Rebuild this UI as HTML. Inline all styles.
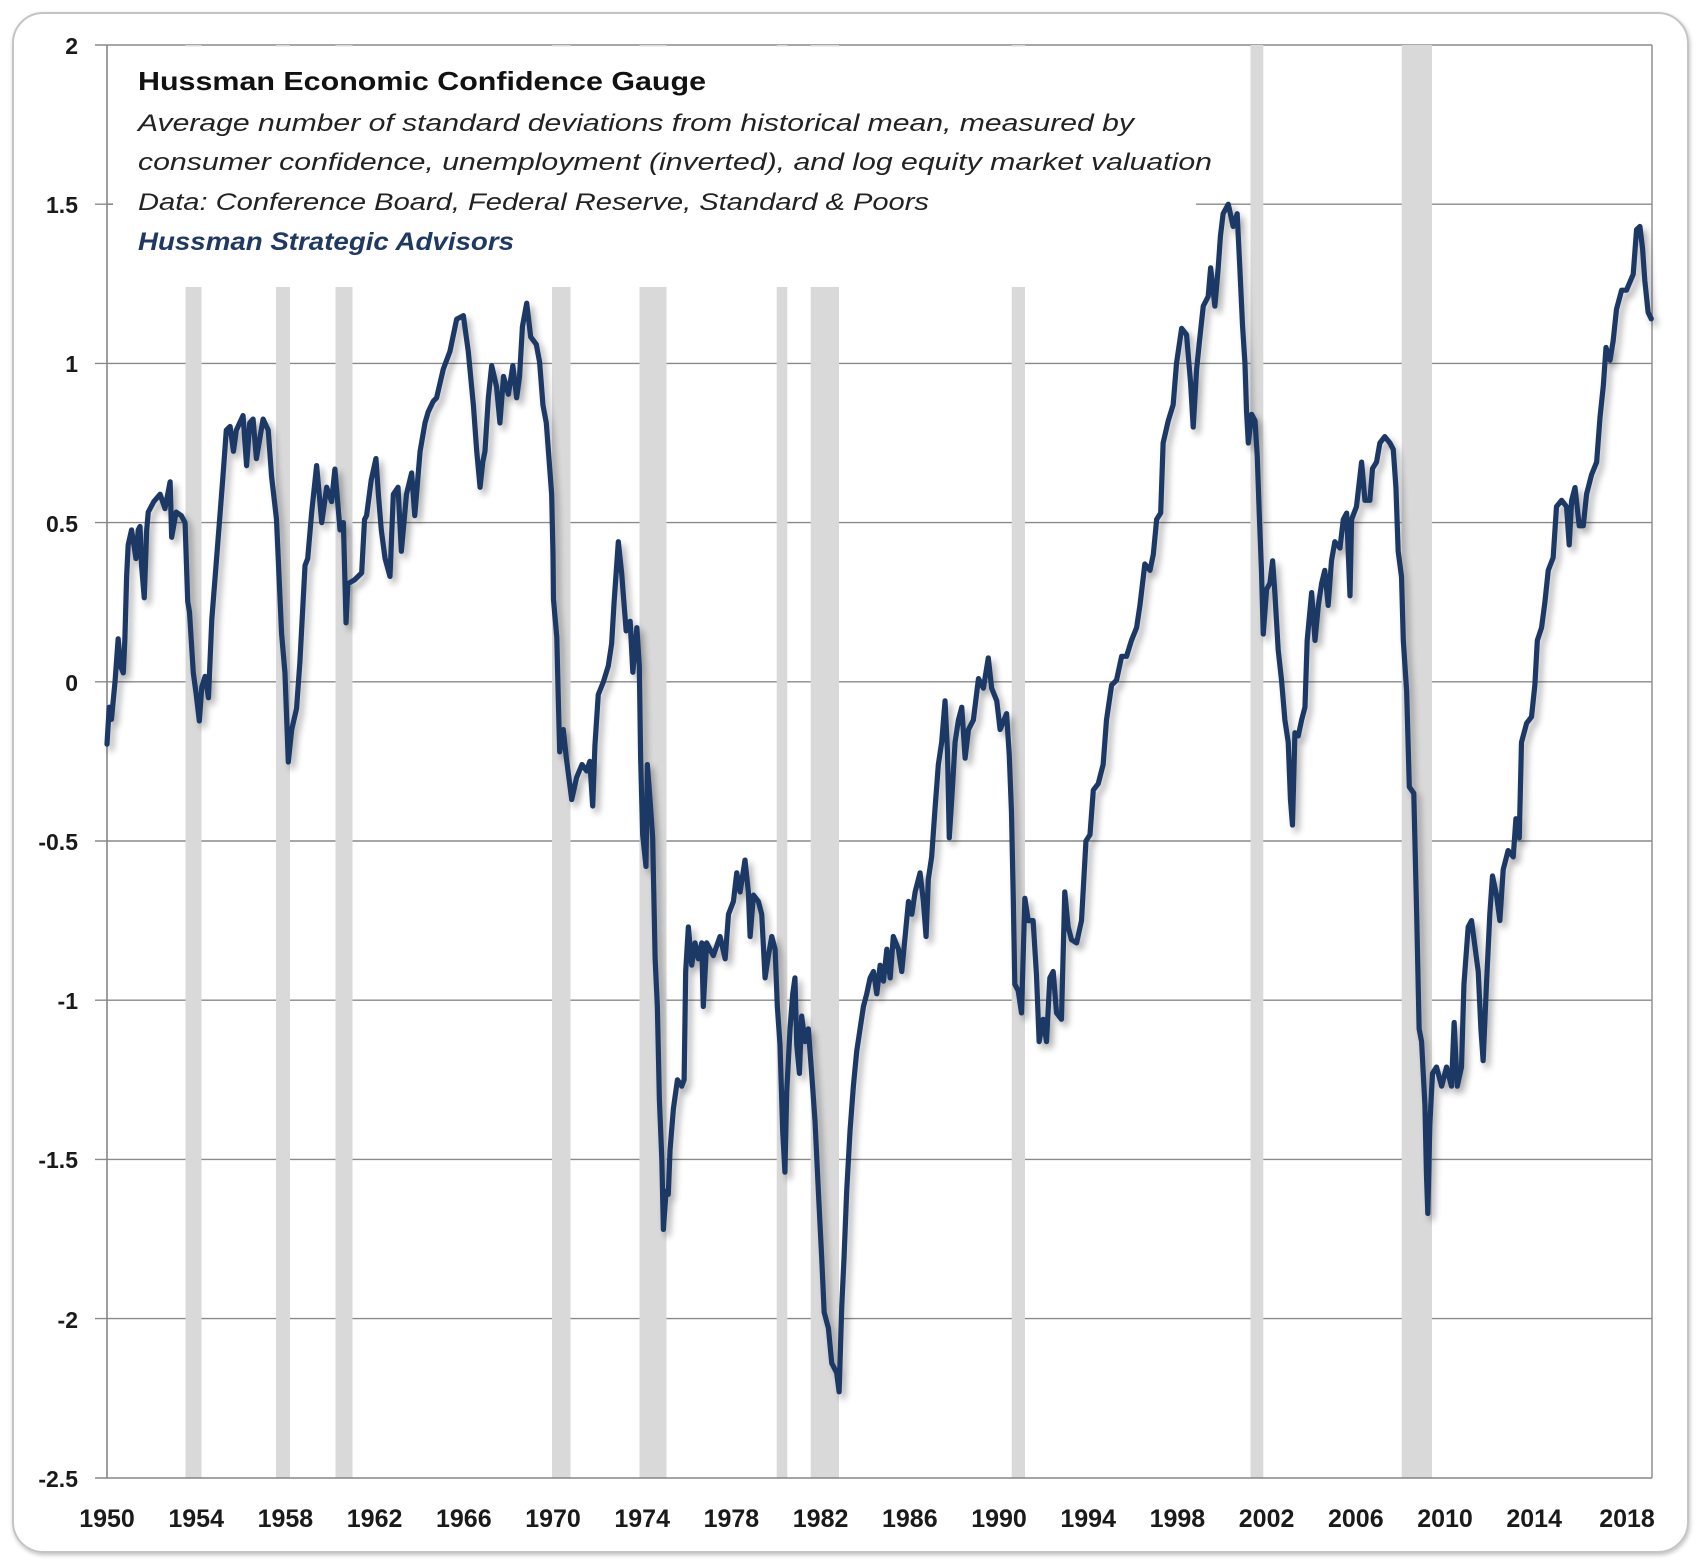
<!DOCTYPE html>
<html>
<head>
<meta charset="utf-8">
<style>
  html,body{margin:0;padding:0;background:#ffffff;}
  svg{display:block;}
  .yl{font-family:"Liberation Sans",Arial,sans-serif;font-weight:bold;font-size:23px;fill:#1a1a1a;}
  .xl{font-family:"Liberation Sans",Arial,sans-serif;font-weight:bold;font-size:25px;fill:#1a1a1a;}
  .t1{font-family:"Liberation Sans",Arial,sans-serif;font-weight:bold;font-size:26px;fill:#111111;}
  .ti{font-family:"Liberation Sans",Arial,sans-serif;font-style:italic;font-size:24px;fill:#222222;}
  .tn{font-family:"Liberation Sans",Arial,sans-serif;font-style:italic;font-weight:bold;font-size:25px;fill:#1f3864;}
</style>
</head>
<body>
<svg width="1698" height="1566" viewBox="0 0 1698 1566" xmlns="http://www.w3.org/2000/svg">
  <defs>
    <filter id="sh" filterUnits="userSpaceOnUse" x="0" y="0" width="1698" height="1566">
      <feGaussianBlur in="SourceAlpha" stdDeviation="3.5"/>
      <feOffset dx="4" dy="5" result="b"/>
      <feComponentTransfer><feFuncA type="linear" slope="0.32"/></feComponentTransfer>
      <feMerge><feMergeNode/><feMergeNode in="SourceGraphic"/></feMerge>
    </filter>
    <filter id="fs" filterUnits="userSpaceOnUse" x="0" y="0" width="1698" height="1566">
      <feGaussianBlur in="SourceAlpha" stdDeviation="2"/>
      <feOffset dx="1" dy="2"/>
      <feComponentTransfer><feFuncA type="linear" slope="0.25"/></feComponentTransfer>
      <feMerge><feMergeNode/><feMergeNode in="SourceGraphic"/></feMerge>
    </filter>
  </defs>

  <!-- outer frame -->
  <rect x="13" y="13" width="1675" height="1539" rx="30" ry="30" fill="#ffffff" stroke="#c4c4c4" stroke-width="2" filter="url(#fs)"/>

  <!-- gridlines -->
  <g stroke="#8a8a8a" stroke-width="1.4">
    <line x1="95" y1="45" x2="1652" y2="45"/>
    <line x1="95" y1="204.2" x2="1652" y2="204.2"/>
    <line x1="95" y1="363.4" x2="1652" y2="363.4"/>
    <line x1="95" y1="522.6" x2="1652" y2="522.6"/>
    <line x1="95" y1="681.8" x2="1652" y2="681.8"/>
    <line x1="95" y1="841" x2="1652" y2="841"/>
    <line x1="95" y1="1000.2" x2="1652" y2="1000.2"/>
    <line x1="95" y1="1159.4" x2="1652" y2="1159.4"/>
    <line x1="95" y1="1318.6" x2="1652" y2="1318.6"/>
    <line x1="1652" y1="45" x2="1652" y2="1478"/>
  </g>

  <!-- recession bars -->
  <g fill="#d9d9d9">
    <rect x="185.5" y="45" width="16" height="1433"/>
    <rect x="276" y="45" width="14" height="1433"/>
    <rect x="335.5" y="45" width="17" height="1433"/>
    <rect x="552" y="45" width="18.5" height="1433"/>
    <rect x="639.5" y="45" width="27" height="1433"/>
    <rect x="776.7" y="45" width="10.6" height="1433"/>
    <rect x="810.7" y="45" width="28.3" height="1433"/>
    <rect x="1011.7" y="45" width="13.3" height="1433"/>
    <rect x="1250.5" y="45" width="12.8" height="1433"/>
    <rect x="1401.7" y="45" width="30.3" height="1433"/>
  </g>

  <!-- title text box -->
  <rect x="108.5" y="46.5" width="1087.5" height="240.5" fill="#ffffff"/>
  <text class="t1" x="138" y="90" textLength="568" lengthAdjust="spacingAndGlyphs">Hussman Economic Confidence Gauge</text>
  <text class="ti" x="138" y="131" textLength="996" lengthAdjust="spacingAndGlyphs">Average number of standard deviations from historical mean, measured by</text>
  <text class="ti" x="138" y="170" textLength="1074" lengthAdjust="spacingAndGlyphs">consumer confidence, unemployment (inverted), and log equity market valuation</text>
  <text class="ti" x="138" y="210" textLength="791" lengthAdjust="spacingAndGlyphs">Data: Conference Board, Federal Reserve, Standard &amp; Poors</text>
  <text class="tn" x="138" y="250" textLength="376" lengthAdjust="spacingAndGlyphs">Hussman Strategic Advisors</text>

  <!-- axes -->
  <g stroke="#868686" stroke-width="1.6">
    <line x1="107" y1="45" x2="107" y2="1478"/>
    <line x1="95" y1="1478" x2="1652" y2="1478"/>
    <line x1="107" y1="204.2" x2="113" y2="204.2"/>
  </g>

  <!-- y labels -->
  <g class="yl" text-anchor="end">
    <text x="78" y="54">2</text>
    <text x="78" y="213">1.5</text>
    <text x="78" y="372">1</text>
    <text x="78" y="532">0.5</text>
    <text x="78" y="691">0</text>
    <text x="78" y="850">-0.5</text>
    <text x="78" y="1009">-1</text>
    <text x="78" y="1168">-1.5</text>
    <text x="78" y="1328">-2</text>
    <text x="78" y="1487">-2.5</text>
  </g>

  <!-- x labels -->
  <g class="xl" text-anchor="middle">
    <text x="107" y="1527">1950</text>
    <text x="196.2" y="1527">1954</text>
    <text x="285.4" y="1527">1958</text>
    <text x="374.6" y="1527">1962</text>
    <text x="463.8" y="1527">1966</text>
    <text x="553" y="1527">1970</text>
    <text x="642.2" y="1527">1974</text>
    <text x="731.4" y="1527">1978</text>
    <text x="820.6" y="1527">1982</text>
    <text x="909.8" y="1527">1986</text>
    <text x="999" y="1527">1990</text>
    <text x="1088.2" y="1527">1994</text>
    <text x="1177.4" y="1527">1998</text>
    <text x="1266.6" y="1527">2002</text>
    <text x="1355.8" y="1527">2006</text>
    <text x="1445" y="1527">2010</text>
    <text x="1534.2" y="1527">2014</text>
    <text x="1627" y="1527">2018</text>
  </g>

  <!-- data series -->
  <g filter="url(#sh)">
    <polyline transform="matrix(22.3 0 0 -318.4 107 681.8)" vector-effect="non-scaling-stroke"
      fill="none" stroke="#1e3765" stroke-width="5.2" stroke-linejoin="round" stroke-linecap="round"
      points="
0,-0.196 0.1,-0.08 0.2,-0.118 0.36,0.0 0.5,0.135 0.6,0.05 0.73,0.028 0.8,0.13 0.88,0.33 0.95,0.43
1.1,0.477 1.3,0.387 1.4,0.477 1.48,0.488 1.55,0.365 1.67,0.264 1.78,0.477 1.85,0.533 2.1,0.566 2.38,0.589
2.6,0.544 2.83,0.628 2.9,0.454 3.1,0.533 3.33,0.522 3.5,0.5 3.62,0.252 3.7,0.219 3.87,0.028 4.0,-0.039
4.14,-0.123 4.25,-0.017 4.4,0.017 4.55,-0.05 4.7,0.196 4.85,0.33 5.04,0.5 5.2,0.645 5.35,0.79 5.52,0.802
5.67,0.724 5.8,0.79 6.1,0.836 6.26,0.679 6.4,0.813 6.55,0.825 6.7,0.701 7.0,0.825 7.23,0.79 7.38,0.645
7.6,0.511 7.83,0.151 7.98,0.028 8.13,-0.252 8.28,-0.151 8.5,-0.084 8.65,0.062 8.88,0.365 9.0,0.387 9.18,0.533
9.4,0.679 9.63,0.5 9.85,0.611 10.07,0.566 10.22,0.668 10.45,0.477 10.6,0.5 10.72,0.185 10.8,0.308 11.1,0.32
11.42,0.342 11.55,0.51 11.64,0.522 11.85,0.634 12.06,0.701 12.17,0.589 12.3,0.477 12.47,0.387 12.69,0.331 12.84,0.589
13.05,0.611 13.2,0.41 13.43,0.589 13.66,0.656 13.8,0.522 14.04,0.724 14.26,0.813 14.4,0.847 14.63,0.881 14.78,0.892
15.08,0.982 15.38,1.038 15.68,1.139 15.98,1.15 16.2,1.038 16.43,0.869 16.58,0.724 16.73,0.611 16.85,0.69 16.95,0.724
17.1,0.892 17.25,0.993 17.47,0.926 17.62,0.813 17.78,0.959 18.0,0.903 18.2,0.993 18.37,0.892 18.5,0.959 18.63,1.116
18.82,1.189 19.0,1.083 19.25,1.06 19.4,1.004 19.55,0.869 19.7,0.813 19.94,0.589 20.0,0.4 20.02,0.26 20.17,0.14
20.24,-0.06 20.3,-0.22 20.46,-0.15 20.6,-0.24 20.84,-0.37 21.06,-0.3 21.3,-0.26 21.51,-0.28 21.65,-0.25 21.78,-0.39
21.88,-0.2 22.03,-0.04 22.26,0.0 22.48,0.05 22.63,0.12 22.74,0.25 22.93,0.44 23.08,0.34 23.28,0.16 23.46,0.19
23.58,0.03 23.76,0.17 23.87,0.05 23.93,-0.24 24.02,-0.48 24.17,-0.58 24.23,-0.26 24.35,-0.37 24.47,-0.49 24.58,-0.87
24.68,-1.02 24.77,-1.31 24.88,-1.5 24.95,-1.72 25.07,-1.6 25.17,-1.61 25.25,-1.47 25.4,-1.34 25.58,-1.25 25.77,-1.27
25.88,-1.25 25.95,-0.91 26.07,-0.77 26.22,-0.89 26.37,-0.82 26.52,-0.87 26.67,-0.82 26.74,-1.02 26.89,-0.82 27.19,-0.86
27.49,-0.8 27.72,-0.87 27.87,-0.73 28.09,-0.69 28.24,-0.6 28.39,-0.66 28.61,-0.56 28.76,-0.66 28.84,-0.8 28.99,-0.67
29.21,-0.69 29.36,-0.73 29.51,-0.93 29.66,-0.86 29.81,-0.8 29.96,-0.84 30.06,-1.02 30.18,-1.14 30.3,-1.41 30.4,-1.54
30.48,-1.29 30.63,-1.09 30.75,-0.98 30.85,-0.93 30.93,-1.14 31.05,-1.23 31.15,-1.05 31.3,-1.13 31.45,-1.09 31.6,-1.23
31.75,-1.38 31.9,-1.6 32.05,-1.81 32.16,-1.98 32.35,-2.03 32.5,-2.14 32.72,-2.17 32.83,-2.23 32.95,-1.96 33.05,-1.81
33.17,-1.6 33.32,-1.41 33.47,-1.27 33.62,-1.16 33.77,-1.09 33.92,-1.02 34.07,-0.98 34.22,-0.93 34.37,-0.91 34.52,-0.98
34.67,-0.89 34.82,-0.94 34.97,-0.84 35.12,-0.93 35.26,-0.8 35.49,-0.84 35.64,-0.91 35.79,-0.8 35.94,-0.69 36.09,-0.73
36.24,-0.66 36.46,-0.6 36.61,-0.69 36.73,-0.8 36.83,-0.62 36.98,-0.55 37.13,-0.4 37.28,-0.26 37.43,-0.19 37.58,-0.06
37.69,-0.22 37.77,-0.49 37.88,-0.37 38.03,-0.19 38.18,-0.12 38.33,-0.08 38.48,-0.24 38.63,-0.15 38.85,-0.12 39.08,0.01
39.3,-0.02 39.52,0.075 39.67,-0.02 39.9,-0.06 40.05,-0.15 40.34,-0.10 40.46,-0.23 40.56,-0.41 40.64,-0.68 40.71,-0.95
40.86,-0.97 41.01,-1.04 41.16,-0.68 41.31,-0.75 41.53,-0.75 41.68,-0.92 41.8,-1.13 41.98,-1.06 42.13,-1.13 42.28,-0.93
42.43,-0.91 42.58,-1.04 42.8,-1.06 42.95,-0.66 43.1,-0.77 43.25,-0.81 43.48,-0.82 43.7,-0.75 43.9,-0.5 44.08,-0.48
44.23,-0.34 44.45,-0.32 44.67,-0.26 44.82,-0.12 45.05,-0.01 45.27,0.005 45.5,0.08 45.72,0.08 45.94,0.13 46.17,0.17
46.32,0.24 46.54,0.37 46.77,0.35 46.92,0.4 47.07,0.51 47.25,0.53 47.36,0.75 47.59,0.82 47.81,0.87 47.96,1.0
48.19,1.11 48.41,1.09 48.59,0.94 48.71,0.8 48.86,0.98 48.99,1.07 49.16,1.18 49.38,1.21 49.49,1.3 49.68,1.18
49.83,1.3 49.93,1.40 50.05,1.47 50.28,1.50 50.5,1.43 50.68,1.47 50.8,1.3 50.92,1.12 51.03,1.0 51.1,0.85
51.18,0.75 51.33,0.84 51.48,0.82 51.58,0.71 51.67,0.53 51.77,0.35 51.85,0.15 52.0,0.29 52.15,0.31 52.27,0.38
52.37,0.28 52.52,0.10 52.67,0.005 52.82,-0.12 52.97,-0.19 53.07,-0.37 53.16,-0.45 53.27,-0.16 53.42,-0.17 53.57,-0.12
53.72,-0.08 53.82,0.13 54.02,0.28 54.17,0.13 54.32,0.24 54.47,0.31 54.61,0.35 54.76,0.24 54.91,0.38 55.06,0.44
55.29,0.42 55.44,0.51 55.59,0.53 55.74,0.27 55.81,0.51 56.03,0.55 56.26,0.69 56.41,0.57 56.63,0.57 56.75,0.67
56.93,0.69 57.08,0.75 57.3,0.77 57.53,0.75 57.68,0.73 57.8,0.61 57.9,0.41 58.05,0.33 58.13,0.13 58.28,-0.03
58.4,-0.33 58.6,-0.35 58.73,-0.73 58.84,-1.09 58.95,-1.13 59.1,-1.33 59.17,-1.55 59.23,-1.67 59.32,-1.39 59.44,-1.23
59.62,-1.21 59.85,-1.27 60.07,-1.21 60.29,-1.27 60.41,-1.07 60.55,-1.27 60.74,-1.21 60.85,-0.95 61.04,-0.77 61.19,-0.75
61.34,-0.83 61.49,-0.91 61.61,-1.09 61.71,-1.19 61.86,-0.95 62.01,-0.73 62.13,-0.61 62.31,-0.67 62.46,-0.75 62.61,-0.59
62.83,-0.53 63.06,-0.55 63.18,-0.43 63.33,-0.49 63.43,-0.19 63.66,-0.13 63.88,-0.11 64.03,-0.01 64.14,0.13 64.33,0.17
64.48,0.25 64.63,0.35 64.85,0.39 65.0,0.55 65.23,0.57 65.45,0.55 65.57,0.43 65.68,0.57 65.83,0.61 66.02,0.49
66.2,0.49 66.35,0.59 66.57,0.65 66.8,0.69 66.95,0.83 67.1,0.93 67.22,1.05 67.4,1.01 67.54,1.07 67.69,1.17
67.92,1.23 68.14,1.23 68.44,1.28 68.59,1.42 68.74,1.43 68.86,1.36 68.96,1.26 69.11,1.16 69.25,1.14"/>
  </g>
</svg>
</body>
</html>
